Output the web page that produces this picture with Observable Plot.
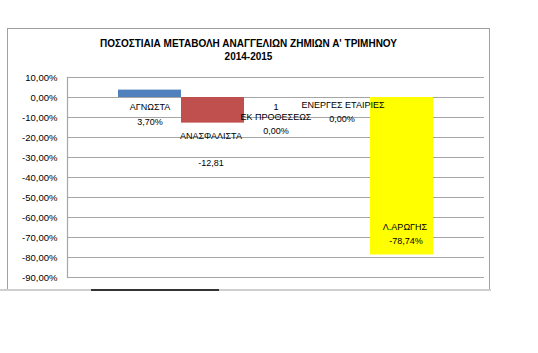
<!DOCTYPE html>
<html>
<head>
<meta charset="utf-8">
<script src="https://cdn.jsdelivr.net/npm/d3@7"></script>
<script src="https://cdn.jsdelivr.net/npm/@observablehq/plot@0.6"></script>
<style>
  html, body { margin: 0; padding: 0; background: #fff; }
  #wrap { position: relative; width: 538px; height: 353px; overflow: hidden; font-family: "Liberation Sans", Arial, sans-serif; }
  #box { position: absolute; left: 7px; top: 28px; width: 481px; height: 260px; border: 1.5px solid #a0a0a0; border-bottom: none; }
  #title { position: absolute; left: 7px; width: 483px; top: 37px; text-align: center; font-weight: bold; font-size: 10px; line-height: 13px; color: #000; }
  #scroll { position: absolute; left: 0; top: 289px; width: 491px; height: 2px; background: #cfcfcf; }
  #thumb { position: absolute; left: 91px; top: 289px; width: 128px; height: 2px; background: #333; }
  #chart { position: absolute; left: 0; top: 0; }
</style>
</head>
<body>
<div id="wrap">
  <div id="box"></div>
  <div id="scroll"></div>
  <div id="thumb"></div>
  <div id="chart"></div>
  <div id="title"></div>
</div>
<script>
const titleLines = ["ΠΟΣΟΣΤΙΑΙΑ ΜΕΤΑΒΟΛΗ ΑΝΑΓΓΕΛΙΩΝ ΖΗΜΙΩΝ Α' ΤΡΙΜΗΝΟΥ", "2014-2015"];
const categories = ["ΑΓΝΩΣΤΑ", "ΑΝΑΣΦΑΛΙΣΤΑ", "ΕΚ ΠΡΟΘΕΣΕΩΣ", "ΕΝΕΡΓΕΣ ΕΤΑΙΡΙΕΣ", "Λ.ΑΡΩΓΗΣ"];
const values = [3.70, -12.81, 0, 0, -78.74];
const valueLabels = ["3,70%", "-12,81", "0,00%", "0,00%", "-78,74%"];
const extraLabel = "1";
const colors = ["#4F81BD", "#C0504D", "#9BBB59", "#8064A2", "#FFFF00"];
const tickValues = [10, 0, -10, -20, -30, -40, -50, -60, -70, -80, -90];
const tickLabels = ["10,00%", "0,00%", "-10,00%", "-20,00%", "-30,00%", "-40,00%", "-50,00%", "-60,00%", "-70,00%", "-80,00%", "-90,00%"];

document.getElementById("title").innerHTML = titleLines.join("<br>");

const rows = categories.map((c, i) => ({cat: c, value: values[i], color: colors[i], label: valueLabels[i]}));

const txt = {fontSize: 9, fill: "#000", textAnchor: "middle", lineAnchor: "middle", fontFamily: "Liberation Sans, Arial, sans-serif"};

function label(i, text, atValue, dy, dx = 0) {
  return Plot.text([rows[i]], {x: "cat", y: atValue ? "value" : () => 0, text: () => text, dy, dx, ...txt});
}

const chart = Plot.plot({
  width: 538,
  height: 353,
  marginLeft: 67,
  marginRight: 54,
  marginTop: 77,
  marginBottom: 76,
  style: {background: "transparent", fontFamily: "Liberation Sans, Arial, sans-serif"},
  x: {domain: categories, paddingInner: 0, paddingOuter: 0.76, axis: null},
  y: {domain: [-90, 10], ticks: tickValues, tickFormat: d => tickLabels[tickValues.indexOf(d)], tickSize: 0, tickPadding: 10, label: null},
  marks: [
    Plot.gridY(tickValues, {stroke: "#a6a6a6", strokeOpacity: 1, strokeWidth: 1.2}),
    Plot.frame({anchor: "left", stroke: "#a6a6a6", strokeWidth: 1.2}),
    Plot.axisY(tickValues, {tickSize: 0, tickPadding: 10, tickFormat: d => tickLabels[tickValues.indexOf(d)], fontSize: 9.5, fill: "#000", label: null}),
    Plot.barY(rows, {x: "cat", y: "value", fill: "color", inset: 0}),
    label(0, categories[0], false, 9.5),
    label(0, valueLabels[0], false, 24.5),
    label(1, categories[1], true, 12.8, -2),
    label(1, valueLabels[1], true, 40, -2),
    label(2, extraLabel, false, 9.5),
    label(2, categories[2], false, 19.5),
    label(2, valueLabels[2], false, 33.5),
    label(3, categories[3], false, 8, 4),
    label(3, valueLabels[3], false, 21.5, 3),
    label(4, categories[4], true, -28, 3),
    label(4, valueLabels[4], true, -14, 4)
  ]
});
document.getElementById("chart").appendChild(chart);
</script>
</body>
</html>
